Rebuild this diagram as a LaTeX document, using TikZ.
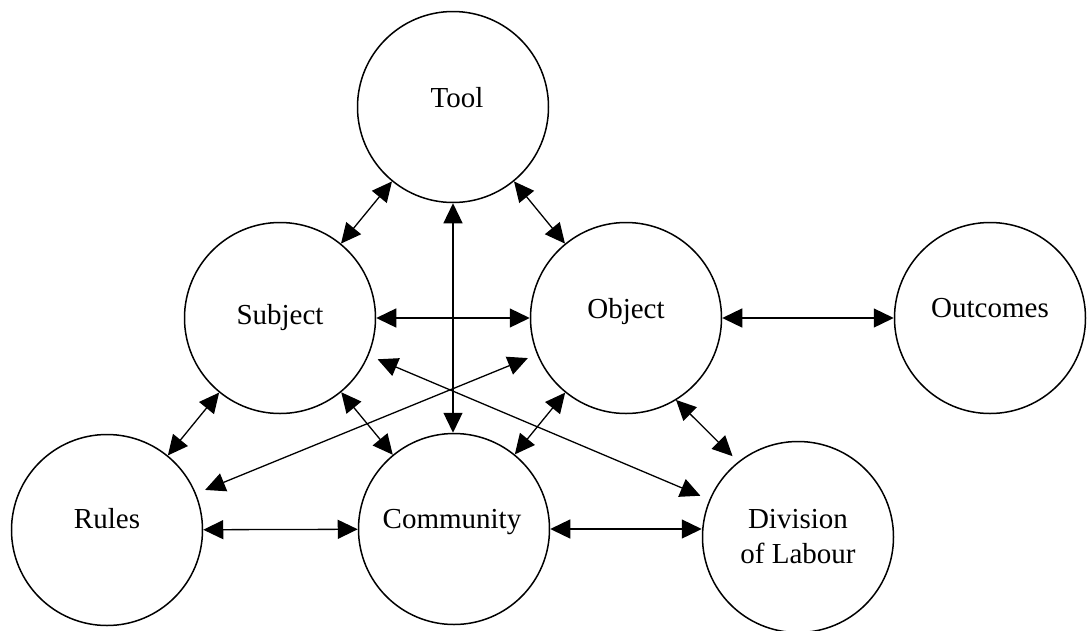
\documentclass[tikz,border=0pt]{standalone}
\usepackage{fontspec}
\setmainfont{Liberation Serif}
\usetikzlibrary{arrows.meta,calc}
\begin{document}
\begin{tikzpicture}[x=1pt,y=-1pt,
  circ/.style={circle,draw,line width=1.5pt,minimum size=191pt,inner sep=0pt},
  lbl/.style={anchor=base,inner sep=0pt,font=\fontsize{29}{33}\selectfont},
  link/.style={line width=1.3pt,{Triangle[length=20pt,width=19pt]}-{Triangle[length=20pt,width=19pt]}}]
\useasboundingbox (0,0) rectangle (1088,630);
% circles
\node[circ] (tool) at (453,107) {};
\node[circ] (subj) at (280,318) {};
\node[circ] (obj)  at (626,318) {};
\node[circ] (out)  at (990,318) {};
\node[circ] (rules) at (107,530) {};
\node[circ] (comm) at (454,529) {};
\node[circ] (div)  at (798,537) {};
% labels
\node[lbl] (toolT) at (457,107) {Tool};
\node[lbl] (subjT) at (280,324) {Subject};
\node[lbl] (objT)  at (626,318) {Object};
\node[lbl] (outT)  at (990,317) {Outcomes};
\node[lbl] (rulesT) at (107,528) {Rules};
\node[lbl] (commT) at (452,528) {Community};
\node[lbl] (divT)  at (798,528) {Division};
\node[lbl] (divT2) at (798,563) {of Labour};
% connectors
\draw[link] (subj) -- (tool);
\draw[link] (tool) -- (obj);
\draw[link] (tool.south) -- (tool.south |- comm.north);
\draw[link] (subj) -- (obj);
\draw[link] (obj) -- (out);
\draw[link] (subj) -- (rules);
\draw[link] (subj) -- (comm);
\draw[link] (obj) -- (comm);
\draw[link] ($(obj)+(-58.6:96pt)$) -- ($(div)+(129:104pt)$);
\draw[link] ($(subj)!106pt!(div)$) -- ($(div)!106pt!(subj)$);
\draw[link] ($(obj)!106pt!(rules)$) -- ($(rules)!106pt!(obj)$);
\draw[link] (rules) -- (comm);
\draw[link] (comm.east) -- (comm.east -| div.west);
\end{tikzpicture}
\end{document}
